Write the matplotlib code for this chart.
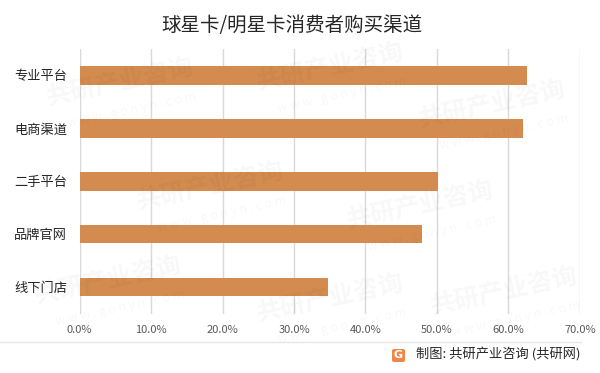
import matplotlib
matplotlib.use("Agg")
import matplotlib.pyplot as plt
from matplotlib.patches import FancyBboxPatch
from matplotlib.lines import Line2D

plt.rcParams['font.family'] = ['Noto Sans CJK SC', 'DejaVu Sans']

title = "球星卡/明星卡消费者购买渠道"
categories = ["专业平台", "电商渠道", "二手平台", "品牌官网", "线下门店"]
values = [62.6, 62.1, 50.1, 47.9, 34.8]
xticks = [0, 10, 20, 30, 40, 50, 60, 70]
xtick_labels = ["0.0%", "10.0%", "20.0%", "30.0%", "40.0%", "50.0%", "60.0%", "70.0%"]
source = "制图: 共研产业咨询 (共研网)"

W, H = 600, 373
fig = plt.figure(figsize=(W / 100, H / 100), dpi=100)
fig.patch.set_facecolor("white")

# faint watermarks (kept inside the canvas)
wm_positions = [(0.2, 0.78), (0.55, 0.82), (0.82, 0.72), (0.35, 0.5), (0.7, 0.45),
                (0.18, 0.25), (0.55, 0.2), (0.84, 0.22)]
for (wx, wy) in wm_positions:
    fig.text(wx, wy, "共研产业咨询", fontsize=18, fontweight='bold', color='#000000',
             alpha=0.03, rotation=12, ha='center', va='center', zorder=0)
    fig.text(wx + 0.02, wy - 0.075, "w w w . g o n y n . c o m", fontsize=9, color='#000000',
             alpha=0.03, rotation=12, ha='center', va='center', zorder=0)

left = 79.6 / W
right = 579.8 / W
top = 1 - 49.0 / H
bottom = 1 - 313.5 / H
ax = fig.add_axes([left, bottom, right - left, top - bottom])
ax.set_facecolor('none')

y = list(range(len(categories)))
ax.barh(y, values, height=0.35, color='#D38B4F', zorder=3)
ax.set_ylim(len(categories) - 0.5, -0.5)
ax.set_xlim(0, 70)
ax.set_yticks(y)
ax.set_yticklabels(categories, fontsize=9.5, color='#262626')
ax.set_xticks(xticks)
ax.set_xticklabels(xtick_labels, fontsize=8, color='#595959')
ax.tick_params(axis='both', length=0)
ax.tick_params(axis='y', pad=9)
ax.tick_params(axis='x', pad=8)
ax.grid(axis='x', color='#D9D9D9', linewidth=1, zorder=0)
for s in ax.spines.values():
    s.set_visible(False)

fig.text(291.7 / W, 1 - 25 / H, title, fontsize=14, color='#262626', ha='center', va='center')

# footer line
fig.add_artist(Line2D([0, 581 / W], [1 - 341.5 / H, 1 - 341.5 / H], color='#E6E6E6', linewidth=1))

# logo
fig.add_artist(FancyBboxPatch((392 / W, 1 - 362 / H), 13 / W, 13 / H,
                              boxstyle="round,pad=0,rounding_size=0.004",
                              facecolor='#F0874A', edgecolor='none', transform=fig.transFigure))
fig.text(398.5 / W, 1 - 355.5 / H, "G", fontsize=8, fontweight='bold', color='white',
         ha='center', va='center', family='DejaVu Sans')

fig.text(580 / W, 1 - 355 / H, source, fontsize=9.5, color='#262626', ha='right', va='center')

fig.savefig("out.png", dpi=100, facecolor='white')
